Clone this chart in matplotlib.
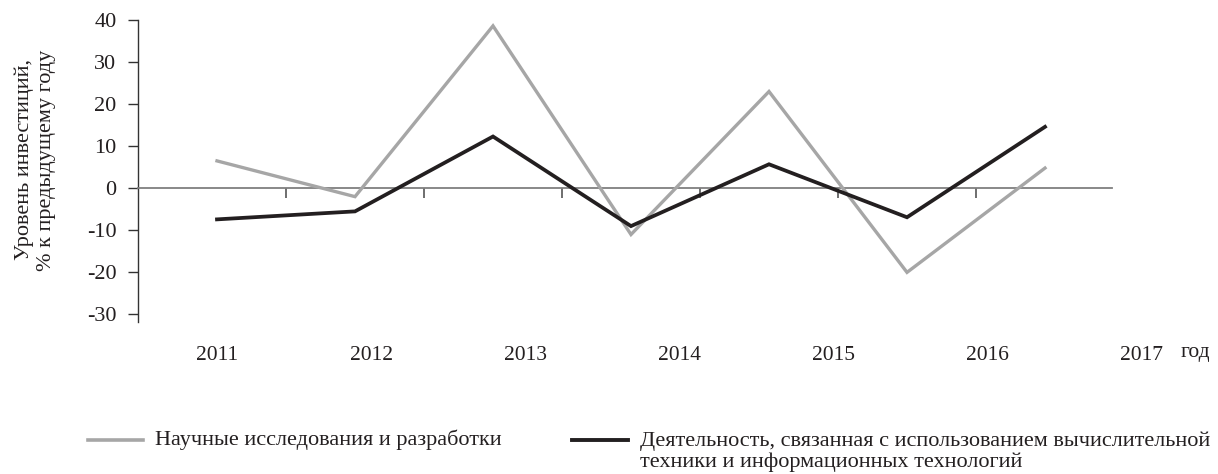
import matplotlib
matplotlib.use("Agg")
import matplotlib.pyplot as plt
from matplotlib.lines import Line2D
from matplotlib.ticker import FixedLocator, NullLocator

plt.rcParams['font.family'] = ['Liberation Serif', 'DejaVu Serif']
plt.rcParams['axes.unicode_minus'] = False

years = ['2011', '2012', '2013', '2014', '2015', '2016', '2017']
rnd = [6.5, -2.0, 38.6, -11.0, 23.0, -20.0, 4.8]
it = [-7.4, -5.5, 12.3, -9.0, 5.7, -6.9, 14.6]
yticks = [-30, -20, -10, 0, 10, 20, 30, 40]
name_rnd = 'Научные исследования и разработки'
name_it = 'Деятельность, связанная с использованием вычислительной\nтехники и информационных технологий'
ylabel = 'Уровень инвестиций,\n% к предыдущему году'
xunit = 'год'

GRAY = '#a6a6a6'
BLACK = '#231f20'
TXT = '#231f20'

W, H = 1218, 474
fig = plt.figure(figsize=(W / 100, H / 100), dpi=100)
L, R, T, B = 138, 1210, 20, 322
ax = fig.add_axes([L / W, 1 - B / H, (R - L) / W, (B - T) / H])

x = list(range(len(years)))
ax.plot(x, rnd, color=GRAY, lw=2.4, solid_joinstyle='miter', zorder=3)
ax.plot(x, it, color=BLACK, lw=2.7, solid_joinstyle='miter', zorder=4)

# main x scale: points spaced as in the reference
p0, p6 = 217, 1045
unit = (p6 - p0) / 6
ax.set_xlim((L - p0) / unit, (R - p0) / unit)
ax.set_ylim(-31.8, 40)
ax.set_yticks(yticks)
ax.set_yticklabels([str(v) for v in yticks])

for s in ['top', 'right']:
    ax.spines[s].set_visible(False)
ax.spines['left'].set_color('#333333')
ax.spines['left'].set_linewidth(1.0)
ax.spines['bottom'].set_position(('data', 0))
ax.spines['bottom'].set_color('#7f7f7f')
ax.spines['bottom'].set_linewidth(1.3)
ax.spines['bottom'].set_bounds((L - p0) / unit, (1112 - p0) / unit)

ax.xaxis.set_major_locator(NullLocator())
ax.xaxis.set_minor_locator(FixedLocator([i + 0.5 for i in range(len(years) - 1)]))
ax.tick_params(axis='x', which='minor', direction='out', length=7.5, width=1.2, color='#555555')
ax.tick_params(axis='y', direction='out', length=7.5, width=1.0, color='#333333',
               pad=8, labelsize=16, labelcolor=TXT)

# year labels on a secondary scale, as in the reference
ax2 = ax.twiny()
q0, q6 = 217, 1142
unit2 = (q6 - q0) / 6
ax2.set_xlim((L - q0) / unit2, (R - q0) / unit2)
ax2.xaxis.set_ticks_position('bottom')
ax2.xaxis.set_label_position('bottom')
ax2.set_xticks(x)
ax2.set_xticklabels(years)
ax2.tick_params(axis='x', length=0, pad=17, labelsize=15.5, labelcolor=TXT)
for s in ax2.spines.values():
    s.set_visible(False)

fig.text(1195 / W, 1 - 352 / H, xunit, ha='center', va='center', fontsize=15.5, color=TXT)

fig.text(35 / W, 1 - 160 / H, ylabel, rotation=90, ha='center', va='center',
         multialignment='center', fontsize=16, color=TXT, linespacing=1.22)

# legend
ly = 1 - 440 / H
fig.add_artist(Line2D([88 / W, 143 / W], [ly, ly], transform=fig.transFigure, color=GRAY, lw=2.6))
fig.text(155 / W, ly, name_rnd, ha='left', va='center', fontsize=16, color=TXT)
fig.add_artist(Line2D([572 / W, 628 / W], [ly, ly], transform=fig.transFigure, color=BLACK, lw=2.8))
fig.text(640 / W, 1 - 452 / H, name_it, ha='left', va='center', fontsize=16, color=TXT,
         linespacing=1.12)

fig.savefig('out.png', dpi=100)
